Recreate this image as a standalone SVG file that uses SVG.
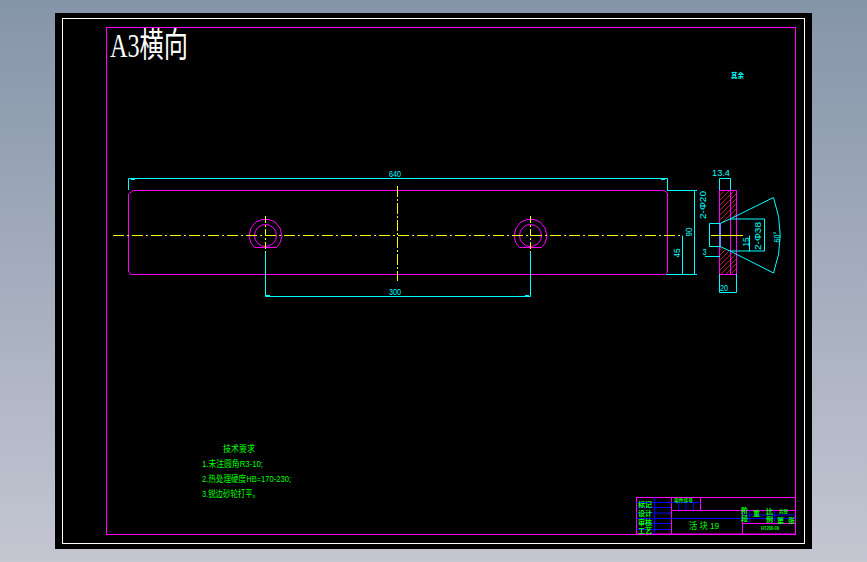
<svg xmlns="http://www.w3.org/2000/svg" width="867" height="562" viewBox="0 0 867 562">
<style>
.m{fill:none;stroke:#f0f;stroke-width:1}
.c{fill:none;stroke:#0ff;stroke-width:1}
.y{fill:none;stroke:#ff0;stroke-width:1}
.b{fill:none;stroke:#00f;stroke-width:1}
.r{fill:none;stroke:#e0202f;stroke-width:.8}
text{font-family:"Liberation Sans","Noto Sans CJK SC",sans-serif}
.dt{fill:#0ff;font-size:9.500px;text-anchor:middle}
.g{fill:#0f0;font-size:9px}
.s{fill:#0f0;font-size:7px;font-weight:700}
.t{fill:#0f0;font-size:4.500px;font-weight:700}
</style>
<defs>
<pattern id="h" width="5" height="5" patternUnits="userSpaceOnUse"><path d="M0 5L5 0M-1 1L1 -1M4 6L6 4" class="r"/></pattern>
<linearGradient id="bg" x1="0" y1="0" x2="0" y2="1"><stop offset="0" stop-color="#8595a9"/><stop offset="1" stop-color="#c4c6d2"/></linearGradient>
</defs>
<rect width="867" height="562" fill="url(#bg)"/>
<rect x="55" y="13" width="757" height="536" fill="#000"/>
<g id="frame">
<rect x="62.500" y="18.500" width="742" height="525" fill="none" stroke="#fff"/>
<rect x="106.500" y="27.500" width="689" height="507" class="m"/>
<text x="110" y="57" font-size="34" fill="#fff" style="font-family:'Liberation Serif','Noto Sans CJK SC',serif" textLength="78" lengthAdjust="spacingAndGlyphs">A3横向</text>
<text x="731" y="78" style="fill:#0ff;font-size:7px;font-weight:700" textLength="13" lengthAdjust="spacingAndGlyphs">其余</text>
</g>
<g id="plate">
<path class="m" d="M133.500 190.500H663.500M131 274.500H665M128.500 194V271.500L131 274.500M665 274.500L667.500 272V193L664 190.500M128.500 194L133.500 190.500"/>
<path class="m" d="M254.500 247.500 L251 243 L249 236 L251 228 L256 222 L262 219.500 H269 L275 222 L280 228 L282 236 L280 243 L276.500 247.500Z"/>
<circle cx="265.500" cy="235.500" r="11" class="m"/>
<path class="m" d="M519.500 247.500 L516 243 L514 236 L516 228 L521 222 L527 219.500 H534 L540 222 L545 228 L547 236 L545 243 L541.500 247.500Z"/>
<circle cx="530.500" cy="235.500" r="11" class="m"/>
<path class="y" stroke-dasharray="11 3 2 3" d="M113 235.500H683"/>
<path class="y" stroke-dasharray="7 2 2 2" d="M265.500 216V252M530.500 216V252"/>
<path class="y" stroke-dasharray="11 2 2 2" d="M397.500 186V281"/>
</g>
<g id="side-view">
<path d="M719.500 190.500H736.500V215L730 219 L720.500 223.500 H719.500Z" fill="url(#h)"/>
<path d="M720.500 247.500L736.500 255V274.500H719.500V247.500Z" fill="url(#h)"/>
<rect x="719.500" y="190.500" width="17" height="84" class="m"/>
<path class="m" d="M730.500 190.500V274.500M720.500 223.500V247.500"/>
<path class="y" d="M711 235.500H743"/>
</g>
<g id="connectors">
<path class="c" d="M128.500 190V178.500H667.500V190"/>
<path class="c" d="M265.500 252V296.500H530.500V252"/>
<path class="c" d="M667 190.500H697M666 274.500H697M694.500 190.500V274.500M682.500 235.500V274.500"/>
<path class="c" d="M719.500 190V178.500H730.500V190M719.500 274V292.500H736.500V274"/>
<path class="c" d="M709.500 223.500H720V246.500H709.500ZM720 223.500L730 219H764.500V251H730L720 246.500M749.500 235.500V251"/>
<path class="c" d="M730 219L773.500 197.500Q787 235.500 773.500 273L730 251"/>
<path class="c" d="M705 256.500H720"/>
<path fill="#0ff" d="M131 179h4v1h-4zM661 179h4v1h-4zM266 295h4v1h-4zM525 295h4v1h-4zM694 193h1v3h-1zM694 269h1v3h-1zM682 238h1v3h-1zM682 269h1v3h-1z"/>
</g>
<g id="dim-labels">
<text x="395" y="177" class="dt" textLength="12" lengthAdjust="spacingAndGlyphs">640</text>
<text x="395" y="295" class="dt" textLength="12" lengthAdjust="spacingAndGlyphs">300</text>
<text class="dt" transform="translate(692 232) rotate(-90)" textLength="9" lengthAdjust="spacingAndGlyphs">90</text>
<text class="dt" transform="translate(680 253) rotate(-90)" textLength="9" lengthAdjust="spacingAndGlyphs">45</text>
<text class="dt" transform="translate(706 205) rotate(-90)" textLength="28" lengthAdjust="spacingAndGlyphs">2-Φ20</text>
<text class="dt" transform="translate(761 236) rotate(-90)" textLength="28" lengthAdjust="spacingAndGlyphs">2-Φ38</text>
<text class="dt" transform="translate(749 242) rotate(-90)" textLength="9" lengthAdjust="spacingAndGlyphs">15</text>
<text class="dt" transform="translate(780 237) rotate(-90)" textLength="11" lengthAdjust="spacingAndGlyphs">60°</text>
<text x="724" y="291" class="dt" textLength="8" lengthAdjust="spacingAndGlyphs">20</text>
<text x="704.500" y="255" class="dt" textLength="4" lengthAdjust="spacingAndGlyphs">3</text>
<text x="721" y="176" class="dt" textLength="18" lengthAdjust="spacingAndGlyphs">13.4</text>
</g>
<g id="notes">
<text x="223" y="452" class="g" textLength="32" lengthAdjust="spacingAndGlyphs">技术要求</text>
<text x="202" y="467" class="g" textLength="61" lengthAdjust="spacingAndGlyphs">1.未注圆角R3-10;</text>
<text x="202" y="482" class="g" textLength="89" lengthAdjust="spacingAndGlyphs">2.热处理硬度HB=170-230;</text>
<text x="202" y="497" class="g" textLength="58" lengthAdjust="spacingAndGlyphs">3.锐边砂轮打平。</text>
</g>
<g id="title-block">
<rect x="636.500" y="497.500" width="159" height="36.500" class="m"/>
<path class="m" d="M671.500 497.500V534M671.500 510.500H795.500M700.500 497.500V510.500M742.500 510.500V534M742.500 523.500H795.500"/>
<path class="b" d="M636.500 502.500H700.500M636.500 507.500H671M636.500 513H671M636.500 518.500H795.500M636.500 523.500H671M636.500 529.500H671M654.500 497.500V534M678.500 502.500V510M686 502.500V510M693.500 502.500V510M749.500 510.500V523M774.500 510.500V523M742.500 515H795.500"/>
<text x="674" y="502" class="t" style="font-size:5px" textLength="19" lengthAdjust="spacingAndGlyphs">零件序号</text>
<text x="689" y="529" class="g" textLength="30" lengthAdjust="spacingAndGlyphs">活 块 19</text>
<text x="761" y="530" class="t" textLength="18" lengthAdjust="spacingAndGlyphs">HT200-09</text>
<text x="638" y="507" class="s">标记</text>
<text x="638" y="516" class="s">设计</text>
<text x="638" y="524.500" class="s">审核</text>
<text x="638" y="533" class="s">工艺</text>
<text x="741" y="513" class="s">阶</text>
<text x="741" y="521" class="s">段</text>
<text x="753" y="516" class="s">重</text>
<text x="766" y="514" class="s">比</text>
<text x="766" y="522" class="s">例</text>
<text x="779" y="513" class="t">共张</text>
<text x="777" y="523" class="s">第</text>
<text x="788" y="523" class="s">张</text>
</g>
</svg>
